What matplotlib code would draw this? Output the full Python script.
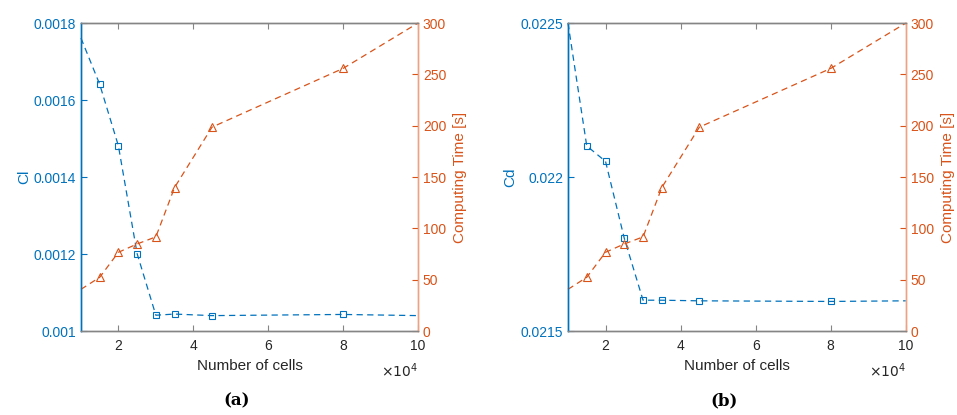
import matplotlib.pyplot as plt
from matplotlib.ticker import FuncFormatter

plt.rcParams['font.family'] = ['Liberation Sans', 'DejaVu Sans']

# number of cells
cells = [10000, 15000, 20000, 25000, 30000, 35000, 45000, 80000, 100000]
# lift / drag coefficients
cl = [0.001761, 0.001641, 0.001481, 0.001201, 0.001041, 0.001044, 0.001040, 0.001043, 0.001040]
cd = [0.02250, 0.022101, 0.022051, 0.021801, 0.021600, 0.021600, 0.021598, 0.021596, 0.021598]
# computing time [s]
ctime = [40.6, 52.3, 76.7, 84.8, 91.7, 139.8, 198.6, 255.8, 300.0]

blue = '#0072BD'
orange = '#D95319'
grey = '#858585'


def panel(fig, rect, coef, coef_label, coef_lim, coef_ticks, caption):
    ax = fig.add_axes(rect)
    ax2 = ax.twinx()
    mk = list(range(1, len(cells) - 1))
    ax.plot(cells, coef, '--', color=blue, lw=0.9, marker='s', markersize=4,
            markerfacecolor='none', markeredgewidth=0.8, markevery=mk, clip_on=False,
            dashes=(5, 3.5))
    ax2.plot(cells, ctime, '--', color=orange, lw=0.9, marker='^', markersize=5.5,
             markerfacecolor='none', markeredgewidth=0.8, markevery=mk, clip_on=False,
             dashes=(5, 3.5))

    ax.set_xlim(10000, 100000)
    ax.set_xticks([20000, 40000, 60000, 80000, 100000])
    ax.xaxis.set_major_formatter(FuncFormatter(lambda v, p: '%g' % (v / 1e4)))
    ax.text(1.0, -0.1, r'$\times10^4$', transform=ax.transAxes, ha='right', va='top',
            fontsize=10, color='#262626')
    ax.set_ylim(*coef_lim)
    ax.set_yticks(coef_ticks)
    ax.yaxis.set_major_formatter(FuncFormatter(lambda v, p: '%g' % round(v, 6)))
    ax2.set_ylim(0, 300)
    ax2.set_yticks([0, 50, 100, 150, 200, 250, 300])

    ax.tick_params(axis='x', direction='in', length=4, color=grey, labelcolor='#262626',
                   labelsize=10, top=True, width=0.8, pad=6)
    ax.tick_params(axis='y', direction='in', length=4, color=blue, labelcolor=blue,
                   labelsize=10, width=0.8)
    ax2.tick_params(axis='y', direction='in', length=4, color=orange, labelcolor=orange,
                    labelsize=10, width=0.8)

    for a in (ax, ax2):
        a.spines['top'].set_color(grey)
        a.spines['bottom'].set_color(grey)
        a.spines['left'].set_color(blue)
        a.spines['right'].set_color('#EBA383')
        for s in a.spines.values():
            s.set_linewidth(1.0)

    ax.set_xlabel('Number of cells', fontsize=11, color='#262626', labelpad=4)
    ax.set_ylabel(coef_label, fontsize=11, color=blue, labelpad=2)
    ax2.set_ylabel('Computing Time [s]', fontsize=11, color=orange, labelpad=5)
    fig.text(rect[0] + rect[2] / 2 - 0.013, 0.035, caption, ha='center', va='center',
             fontsize=12, fontweight='bold', family='DejaVu Serif')


fig = plt.figure(figsize=(9.57, 4.15), dpi=100)
panel(fig, [0.0846, 0.2024, 0.3521, 0.742], cl, 'Cl', (0.001, 0.0018),
      [0.001, 0.0012, 0.0014, 0.0016, 0.0018], '(a)')
panel(fig, [0.5935, 0.2024, 0.3530, 0.742], cd, 'Cd', (0.0215, 0.0225),
      [0.0215, 0.022, 0.0225], '(b)')
fig.savefig('out.png', dpi=100)
